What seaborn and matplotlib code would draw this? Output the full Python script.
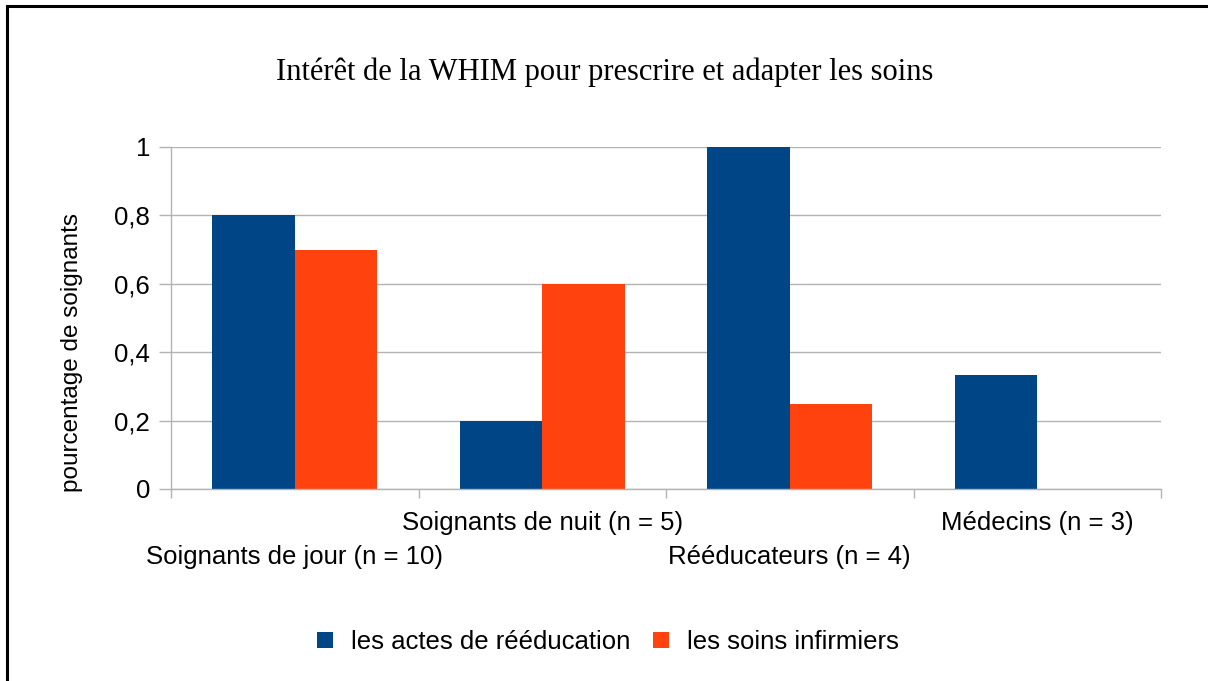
import matplotlib
matplotlib.use("Agg")
import matplotlib.pyplot as plt
import seaborn as sns
import pandas as pd
from matplotlib.patches import Rectangle
from matplotlib.ticker import FuncFormatter, FixedLocator

categories = ["Soignants de jour (n = 10)", "Soignants de nuit (n = 5)",
              "Rééducateurs (n = 4)", "Médecins (n = 3)"]
series = ["les actes de rééducation", "les soins infirmiers"]
actes = [0.8, 0.2, 1.0, 0.333]
soins = [0.7, 0.6, 0.25, 0.0]
colors = ["#004586", "#ff420e"]

df = pd.DataFrame({
    "cat": categories * 2,
    "serie": [series[0]] * 4 + [series[1]] * 4,
    "val": actes + soins,
})

sns.set_theme(style="white")
plt.rcParams["font.family"] = ["Liberation Sans", "DejaVu Sans"]
plt.rcParams["text.color"] = "black"
plt.rcParams["xtick.color"] = "black"
plt.rcParams["ytick.color"] = "black"
plt.rcParams["axes.labelcolor"] = "black"

fig = plt.figure(figsize=(12.08, 6.81), dpi=100)
ax = fig.add_axes([171/1208, 1-489/681, (1161-171)/1208, (489-147)/681])

sns.barplot(data=df, x="cat", y="val", hue="serie", palette=colors,
            width=2/3, linewidth=0, saturation=1, errorbar=None, ax=ax)

ax.set_ylim(0, 1)
ax.set_xlim(-0.5, 3.5)
ax.set_yticks([0, 0.2, 0.4, 0.6, 0.8, 1.0])
ax.yaxis.set_major_formatter(FuncFormatter(lambda v, p: ("%g" % round(v, 2)).replace(".", ",")))
ax.grid(axis="y", color="#b3b3b3", linewidth=1)
ax.set_axisbelow(True)
for s in ["top", "right"]:
    ax.spines[s].set_visible(False)
ax.spines["left"].set_color("#b3b3b3")
ax.spines["bottom"].set_color("#b3b3b3")
ax.spines["left"].set_linewidth(1)
ax.spines["bottom"].set_linewidth(1)

ax.tick_params(axis="y", length=9, color="#b3b3b3", width=1, labelsize=18.5,
               pad=6, left=True, labelcolor="black")
ax.tick_params(axis="x", which="major", length=0, labelsize=18.5, bottom=True, labelcolor="black")
ax.xaxis.set_minor_locator(FixedLocator([-0.5, 0.5, 1.5, 2.5, 3.5]))
ax.tick_params(axis="x", which="minor", length=6.5, color="#b3b3b3", width=1, bottom=True)
ax.set_xlabel("")
ax.set_ylabel("pourcentage de soignants", fontsize=17.5, color="black")
ax.yaxis.set_label_coords(-88/990, 0.40)

ticks = ax.xaxis.get_major_ticks()
for i, t in enumerate(ticks):
    t.set_pad(40 if i % 2 == 0 else 16)

leg = ax.legend(loc="center", bbox_to_anchor=(608/1208, 1-642/681),
                bbox_transform=fig.transFigure, ncol=2, frameon=False,
                fontsize=18.5, handlelength=0.6, handleheight=0.6,
                handletextpad=0.7, columnspacing=0.9, title=None)
for t in leg.get_texts():
    t.set_color("black")

fig.text(605/1208, 1-72/681, "Intérêt de la WHIM pour prescrire et adapter les soins",
         ha="center", va="center", fontsize=22, color="black",
         family=["Liberation Serif", "DejaVu Serif"])

fig.patches.append(Rectangle((7/1208, -0.2), 1.2, 0.2 + (1 - 6/681), transform=fig.transFigure,
                             fill=False, edgecolor="black", linewidth=2.2, figure=fig))

fig.savefig("out.png", dpi=100, facecolor="white")
